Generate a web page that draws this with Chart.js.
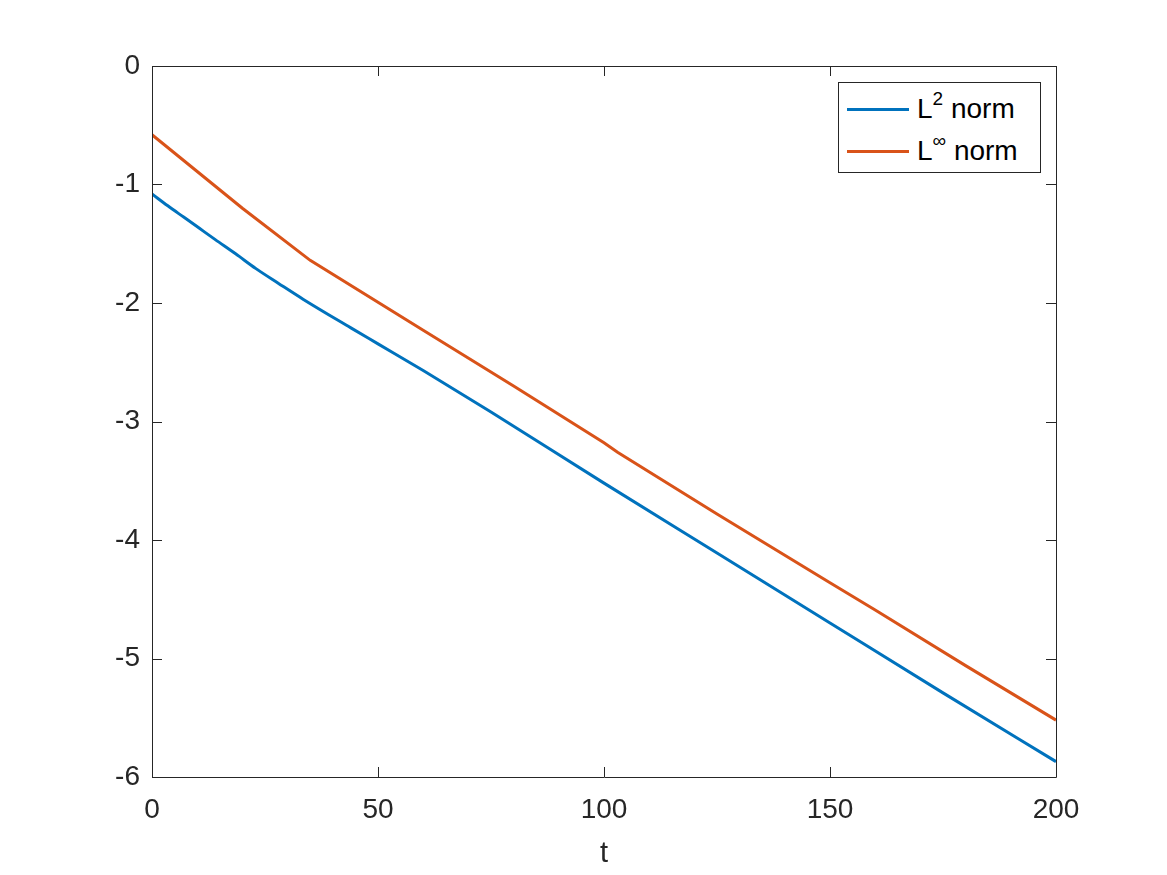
<!DOCTYPE html>
<html>
<head>
<meta charset="utf-8">
<script src="https://cdn.jsdelivr.net/npm/chart.js@4.4.1/dist/chart.umd.min.js"></script>
<style>
  html, body { margin:0; padding:0; background:#fff; }
  #wrap { position:relative; width:1167px; height:875px; }
  #legend { position:absolute; left:838px; top:82px; width:201px; height:89px; border:1px solid #262626; background:#fff;
    font-family:"Liberation Sans", Arial, Helvetica, sans-serif; font-size:28px; color:#000; }
  .item { position:absolute; left:8px; height:30px; display:flex; align-items:center; white-space:nowrap; }
  .swatch { width:62px; height:3px; margin-right:8px; }
  sup { font-size:19px; vertical-align:13px; line-height:0; }
</style>
</head>
<body>
<div id="wrap">
  <canvas id="c" width="1167" height="875"></canvas>
  <div id="legend">
    <div class="item" style="top:11px"><span class="swatch" style="background:#0072BD"></span><span>L<sup>2</sup> norm</span></div>
    <div class="item" style="top:53px"><span class="swatch" style="background:#D95319"></span><span>L<sup>∞</sup> norm</span></div>
  </div>
</div>
<script>
const xTicks = [0, 50, 100, 150, 200];
const yTicks = [0, -1, -2, -3, -4, -5, -6];
const l2T = [0, 3.5, 7, 10.5, 14, 18.5, 23, 28, 33.5, 44, 50, 60, 75, 100, 125, 150, 175, 200];
const l2V = [-1.08, -1.18, -1.275, -1.37, -1.465, -1.585, -1.71, -1.835, -1.97, -2.21, -2.345, -2.57, -2.92, -3.52, -4.11, -4.70, -5.29, -5.87];
const linfT = [0, 20, 35, 60, 80, 100, 103, 125, 150, 160, 180, 200];
const linfV = [-0.58, -1.20, -1.64, -2.23, -2.70, -3.18, -3.26, -3.78, -4.36, -4.59, -5.06, -5.52];

const toPts = (t, v) => t.map((x, i) => ({x: x, y: v[i]}));
const FONT = '"Liberation Sans", Arial, Helvetica, sans-serif';
const AX = '#262626';

const boxPlugin = {
  id: 'box',
  afterDraw(chart) {
    const {ctx, chartArea: a, scales} = chart;
    ctx.save();
    ctx.strokeStyle = AX;
    ctx.lineWidth = 1;
    ctx.beginPath();
    ctx.rect(Math.round(a.left) + 0.5, Math.round(a.top) + 0.5, Math.round(a.right - a.left), Math.round(a.bottom - a.top));
    const L = 10;
    xTicks.forEach(v => {
      const px = Math.round(scales.x.getPixelForValue(v)) + 0.5;
      ctx.moveTo(px, a.bottom); ctx.lineTo(px, a.bottom - L);
      ctx.moveTo(px, a.top); ctx.lineTo(px, a.top + L);
    });
    yTicks.forEach(v => {
      const py = Math.round(scales.y.getPixelForValue(v)) + 0.5;
      ctx.moveTo(a.left, py); ctx.lineTo(a.left + L, py);
      ctx.moveTo(a.right, py); ctx.lineTo(a.right - L, py);
    });
    ctx.stroke();
    ctx.restore();
  }
};

new Chart(document.getElementById('c'), {
  type: 'line',
  data: {
    datasets: [
      { label: 'L2 norm', data: toPts(l2T, l2V), borderColor: '#0072BD', borderWidth: 3, pointRadius: 0, tension: 0.3, cubicInterpolationMode: 'monotone', fill: false },
      { label: 'Linf norm', data: toPts(linfT, linfV), borderColor: '#D95319', borderWidth: 3, pointRadius: 0, tension: 0, fill: false }
    ]
  },
  options: {
    responsive: false,
    animation: false,
    layout: { padding: { top: 66, right: 111, left: 0, bottom: 0 } },
    plugins: { legend: { display: false }, tooltip: { enabled: false } },
    scales: {
      x: {
        type: 'linear', min: 0, max: 200,
        grid: { display: false }, border: { display: false },
        afterBuildTicks: s => { s.ticks = xTicks.map(v => ({value: v})); },
        afterFit: s => { s.height = 98; },
        ticks: { color: AX, font: { family: FONT, size: 28 }, padding: 8, maxRotation: 0 },
        title: { display: true, text: 't', color: AX, font: { family: FONT, size: 29 }, padding: { top: 0 } }
      },
      y: {
        type: 'linear', min: -6, max: 0,
        grid: { display: false }, border: { display: false },
        afterBuildTicks: s => { s.ticks = yTicks.map(v => ({value: v})); },
        afterFit: s => { s.width = 152; },
        ticks: { color: AX, font: { family: FONT, size: 28 }, padding: 4 }
      }
    }
  },
  plugins: [boxPlugin]
});
</script>
</body>
</html>
